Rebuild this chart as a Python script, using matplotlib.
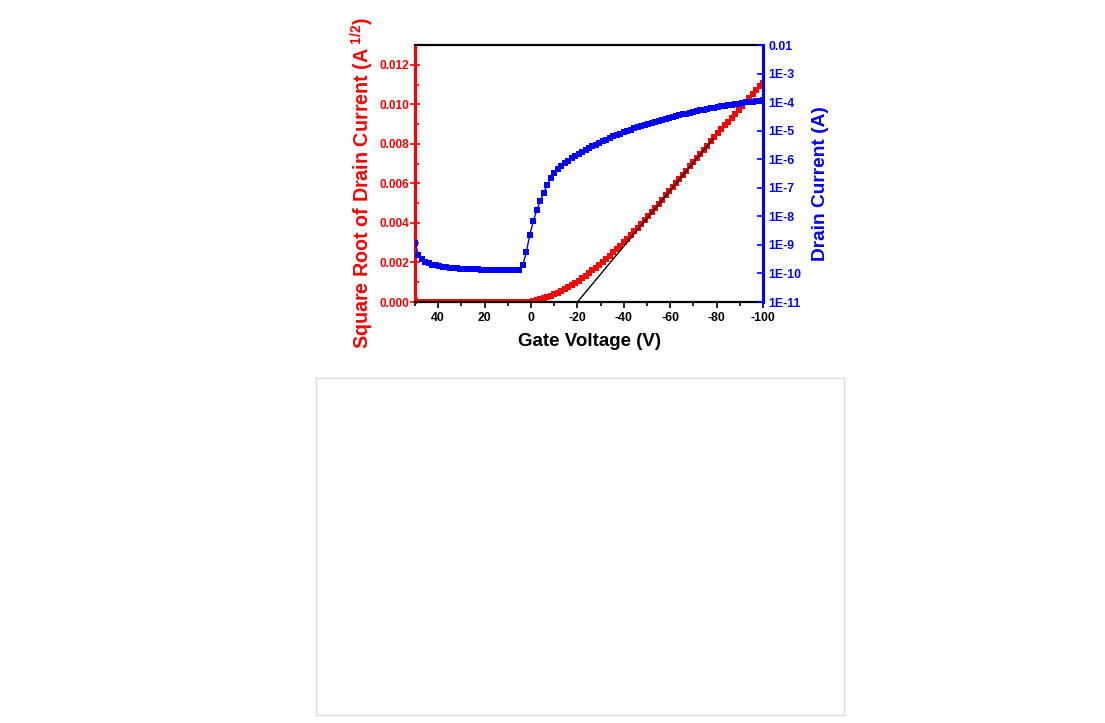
import numpy as np
import matplotlib
matplotlib.use("Agg")
import matplotlib.pyplot as plt
from matplotlib.ticker import FixedLocator, MultipleLocator, NullLocator

plt.rcParams["font.family"] = ["Liberation Sans", "DejaVu Sans"]
plt.rcParams["font.weight"] = "bold"
plt.rcParams["axes.unicode_minus"] = False
plt.rcParams["mathtext.fontset"] = "custom"
plt.rcParams["mathtext.rm"] = "Liberation Sans:bold"
plt.rcParams["mathtext.it"] = "Liberation Sans:bold"
plt.rcParams["mathtext.bf"] = "Liberation Sans:bold"
plt.rcParams["mathtext.default"] = "rm"

# Gate voltage sweep, +50 V down to -100 V in 1.5 V steps
gate_voltage = np.arange(50, -100.1, -1.5)

# log10 of drain current (A)
drain_log = [
    -8.93, -9.35, -9.50, -9.59, -9.65, -9.69, -9.72, -9.75, -9.77, -9.79,
    -9.80, -9.81, -9.82, -9.83, -9.84, -9.85, -9.85, -9.86, -9.86, -9.87,
    -9.87, -9.87, -9.88, -9.88, -9.88, -9.88, -9.88, -9.88, -9.88, -9.88,
    -9.87, -9.70, -9.24, -8.65, -8.16, -7.78, -7.46, -7.17, -6.90, -6.67,
    -6.47, -6.35, -6.24, -6.14, -6.05, -5.96, -5.89, -5.82, -5.75, -5.68,
    -5.61, -5.55, -5.49, -5.42, -5.36, -5.31, -5.25, -5.20, -5.15, -5.10,
    -5.05, -5.01, -4.96, -4.92, -4.88, -4.84, -4.80, -4.76, -4.72, -4.69,
    -4.65, -4.62, -4.58, -4.55, -4.52, -4.49, -4.46, -4.43, -4.40, -4.37,
    -4.34, -4.32, -4.29, -4.27, -4.24, -4.22, -4.19, -4.17, -4.15, -4.13,
    -4.11, -4.09, -4.07, -4.05, -4.03, -4.01, -3.99, -3.98, -3.96, -3.95,
    -3.93,
]

# square root of drain current (A^1/2)
sqrt_current = [0.00003] + [0.00001] * 32 + [
    0.00002,
    0.00006, 0.00010, 0.00014, 0.00019, 0.00025, 0.00031, 0.00038, 0.00046, 0.00055, 0.00064,
    0.00074, 0.00085, 0.00096, 0.00108, 0.00120, 0.00133, 0.00146, 0.00160, 0.00174, 0.00189,
    0.00204, 0.00219, 0.00235, 0.00251, 0.00268, 0.00285, 0.00302, 0.00320, 0.00338, 0.00357,
    0.00376, 0.00396, 0.00416, 0.00436, 0.00456, 0.00476, 0.00497, 0.00518, 0.00539, 0.00560,
    0.00581, 0.00602, 0.00623, 0.00644, 0.00665, 0.00686, 0.00707, 0.00728, 0.00749, 0.00770,
    0.00791, 0.00812, 0.00833, 0.00853, 0.00873, 0.00893, 0.00913, 0.00933, 0.00953, 0.00973,
    0.00993, 0.01013, 0.01033, 0.01053, 0.01072, 0.01091, 0.01110,
]

# linear fit line for threshold voltage
fit_v = [-20.0, -78.5]
fit_y = [0.0, 0.00825]

log_ticks = [1e-11, 1e-10, 1e-9, 1e-8, 1e-7, 1e-6, 1e-5, 1e-4, 1e-3, 1e-2]
log_labels = ["1E-11", "1E-10", "1E-9", "1E-8", "1E-7", "1E-6", "1E-5", "1E-4", "1E-3", "0.01"]

drain_current = 10.0 ** np.array(drain_log)

fig = plt.figure(figsize=(11.05, 7.23), dpi=100)
ax = fig.add_axes([415 / 1105, 1 - 302 / 723, 348 / 1105, 257 / 723])
ax2 = ax.twinx()

ax.plot(gate_voltage, sqrt_current, color="red", marker="s", markersize=5,
        linewidth=1, markeredgewidth=0)
ax.plot(fit_v, fit_y, color="black", linewidth=1)
ax2.plot(gate_voltage, drain_current, color="blue", marker="s", markersize=4.8,
         linewidth=1, markeredgewidth=0)

ax.set_xlim(50, -100)
ax.set_ylim(0, 0.013)
ax2.set_yscale("log")
ax2.set_ylim(1e-11, 1e-2)

# x axis
ax.xaxis.set_major_locator(MultipleLocator(20))
ax.xaxis.set_minor_locator(MultipleLocator(10))
ax.tick_params(axis="x", which="major", direction="out", length=4, width=1.2,
               labelsize=8.8, pad=3, colors="black")
ax.tick_params(axis="x", which="minor", direction="out", length=3, width=1.2)
ax.tick_params(top=False, which="both")

# left axis
ax.yaxis.set_major_locator(MultipleLocator(0.002))
ax.yaxis.set_minor_locator(MultipleLocator(0.001))
ax.yaxis.set_major_formatter(plt.FormatStrFormatter("%.3f"))
ax.tick_params(axis="y", which="major", direction="inout", length=7, width=1.2,
               labelsize=8.5, colors="red", pad=1)
ax.tick_params(axis="y", which="minor", direction="in", length=3, width=1.2, colors="red")

# right axis
ax2.yaxis.set_major_locator(FixedLocator(log_ticks))
ax2.yaxis.set_minor_locator(NullLocator())
ax2.set_yticklabels(log_labels)
ax2.tick_params(axis="y", which="major", direction="in", length=4, width=1.2,
                labelsize=8.8, colors="blue", pad=4)

for s in ("top", "bottom"):
    ax.spines[s].set_linewidth(1.6)
    ax.spines[s].set_color("black")
ax2.spines["left"].set_visible(False)
ax2.spines["top"].set_visible(False)
ax2.spines["bottom"].set_visible(False)
ax.spines["left"].set_color("red")
ax.spines["left"].set_linewidth(2.2)
ax.spines["right"].set_visible(False)
ax2.spines["right"].set_color("blue")
ax2.spines["right"].set_linewidth(2.2)

ax.set_xlabel("Gate Voltage (V)", fontsize=13.5, fontweight="bold", labelpad=7)
ax.set_ylabel("Square Root of Drain Current (A$^{\\ 1/2}$)", fontsize=14.2,
              fontweight="bold", color="red")
ax.yaxis.set_label_coords(-0.112, 0.465)
ax2.set_ylabel("Drain Current (A)", fontsize=13.8, fontweight="bold", color="blue")
ax2.yaxis.set_label_coords(1.14, 0.46)

# empty panel below
box = fig.add_axes([316 / 1105, 1 - 715 / 723, 528 / 1105, 337 / 723])
box.set_xticks([])
box.set_yticks([])
for s in box.spines.values():
    s.set_color("#dddddd")
    s.set_linewidth(1)

fig.savefig("out.png", dpi=100)
